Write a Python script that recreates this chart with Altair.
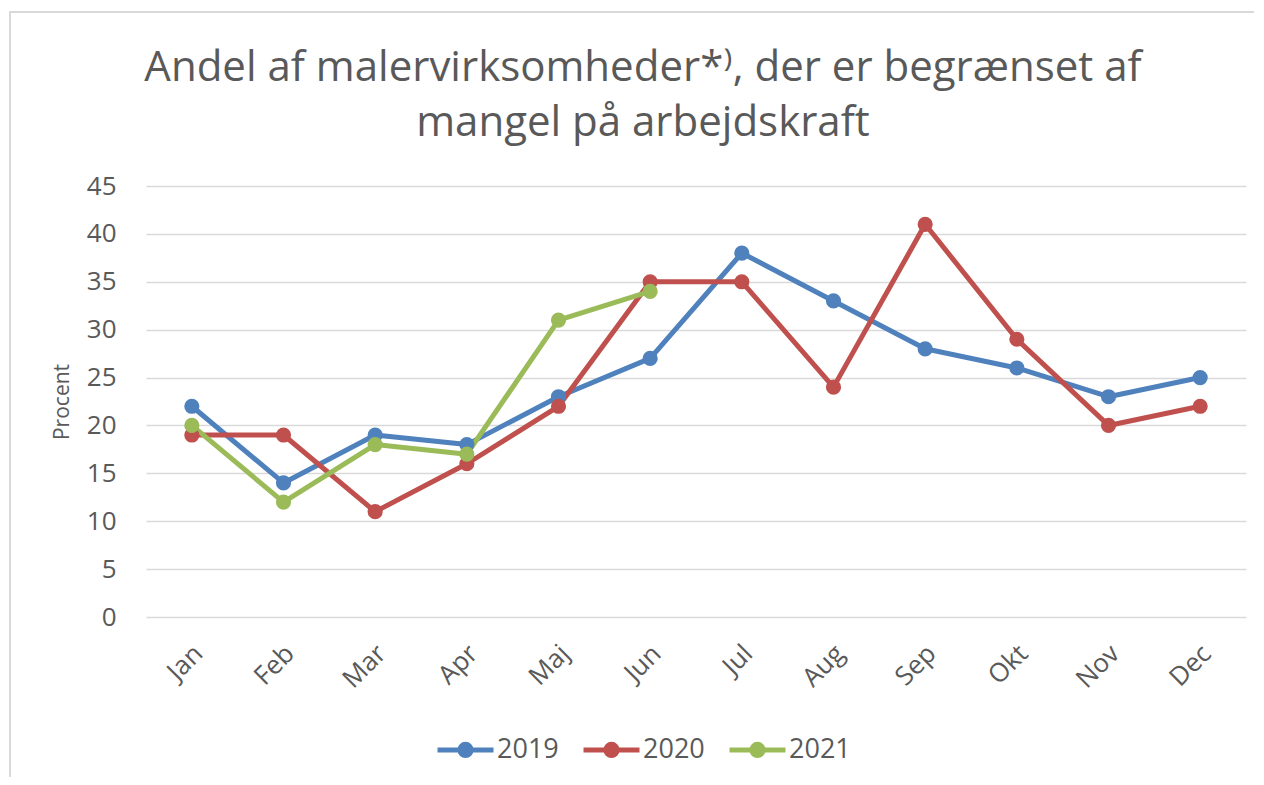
import altair as alt
import pandas as pd

months = ["Jan", "Feb", "Mar", "Apr", "Maj", "Jun", "Jul", "Aug", "Sep", "Okt", "Nov", "Dec"]
years = ["2019", "2020", "2021"]
v2019 = [22, 14, 19, 18, 23, 27, 38, 33, 28, 26, 23, 25]
v2020 = [19, 19, 11, 16, 22, 35, 35, 24, 41, 29, 20, 22]
v2021 = [20, 12, 18, 17, 31, 34]
colors = ["#4F81BD", "#C0504D", "#9BBB59"]
y_ticks = [0, 5, 10, 15, 20, 25, 30, 35, 40, 45]

rows = []
for yr, vals in zip(years, [v2019, v2020, v2021]):
    for m, v in zip(months, vals):
        rows.append({"Måned": m, "År": yr, "Procent": v})
df = pd.DataFrame(rows)

FONT = "Open Sans"
GREY = "#595959"

legend_path = "M-1,0H1M-0.2,0A0.2,0.2,0,1,1,0.2,0A0.2,0.2,0,1,1,-0.2,0"

base = alt.Chart(df).encode(
    x=alt.X("Måned:N", sort=months, scale=alt.Scale(domain=months),
            axis=alt.Axis(title=None, labelAngle=-45, labelFontSize=26, labelColor=GREY,
                          labelFont=FONT, domain=False, ticks=False, tickSize=0,
                          labelPadding=23, labelOffset=-3, grid=False)),
    y=alt.Y("Procent:Q", scale=alt.Scale(domain=[0, 45], nice=False),
            axis=alt.Axis(title="Procent", values=y_ticks, labelFontSize=26, labelColor=GREY,
                          labelFont=FONT, titleFont=FONT, titleFontSize=21,
                          titleFontWeight="normal", titleColor=GREY, titlePadding=14,
                          domain=False, ticks=False, tickSize=0, labelPadding=30,
                          gridColor="#D9D9D9", gridWidth=1.5)),
    color=alt.Color("År:N", scale=alt.Scale(domain=years, range=colors),
                    legend=alt.Legend(title=None, orient="none", legendX=289, legendY=533,
                                      direction="horizontal", labelFontSize=27,
                                      labelColor=GREY, labelFont=FONT,
                                      symbolType=legend_path, symbolSize=3136,
                                      symbolStrokeWidth=5, labelOffset=1,
                                      columnPadding=14)),
)

line = base.mark_line(strokeWidth=5, strokeJoin="round")
points = base.mark_point(filled=True, size=230, opacity=1)

frame = alt.Chart(pd.DataFrame({"f": [0]})).mark_rect(
    fill=None, stroke="#D9D9D9", strokeWidth=2
).encode(x=alt.value(-136), x2=alt.value(1130), y=alt.value(-174), y2=alt.value(620))

chart = alt.layer(frame, line, points).properties(
    width=1100,
    height=431,
    title=alt.TitleParams(
        text=["Andel af malervirksomheder*⁾, der er begrænset af", "mangel på arbejdskraft"],
        fontSize=42, font=FONT, fontWeight="normal", color=GREY, anchor="middle",
        frame="group", dx=-53, offset=42, dy=176, lineHeight=55,
    ),
    autosize=alt.AutoSizeParams(type="none"),
    padding={"left": 138, "top": 178, "right": 8, "bottom": 160},
).configure_view(stroke=None)

chart.save("out.html", embed_options={"renderer": "svg", "actions": False})
